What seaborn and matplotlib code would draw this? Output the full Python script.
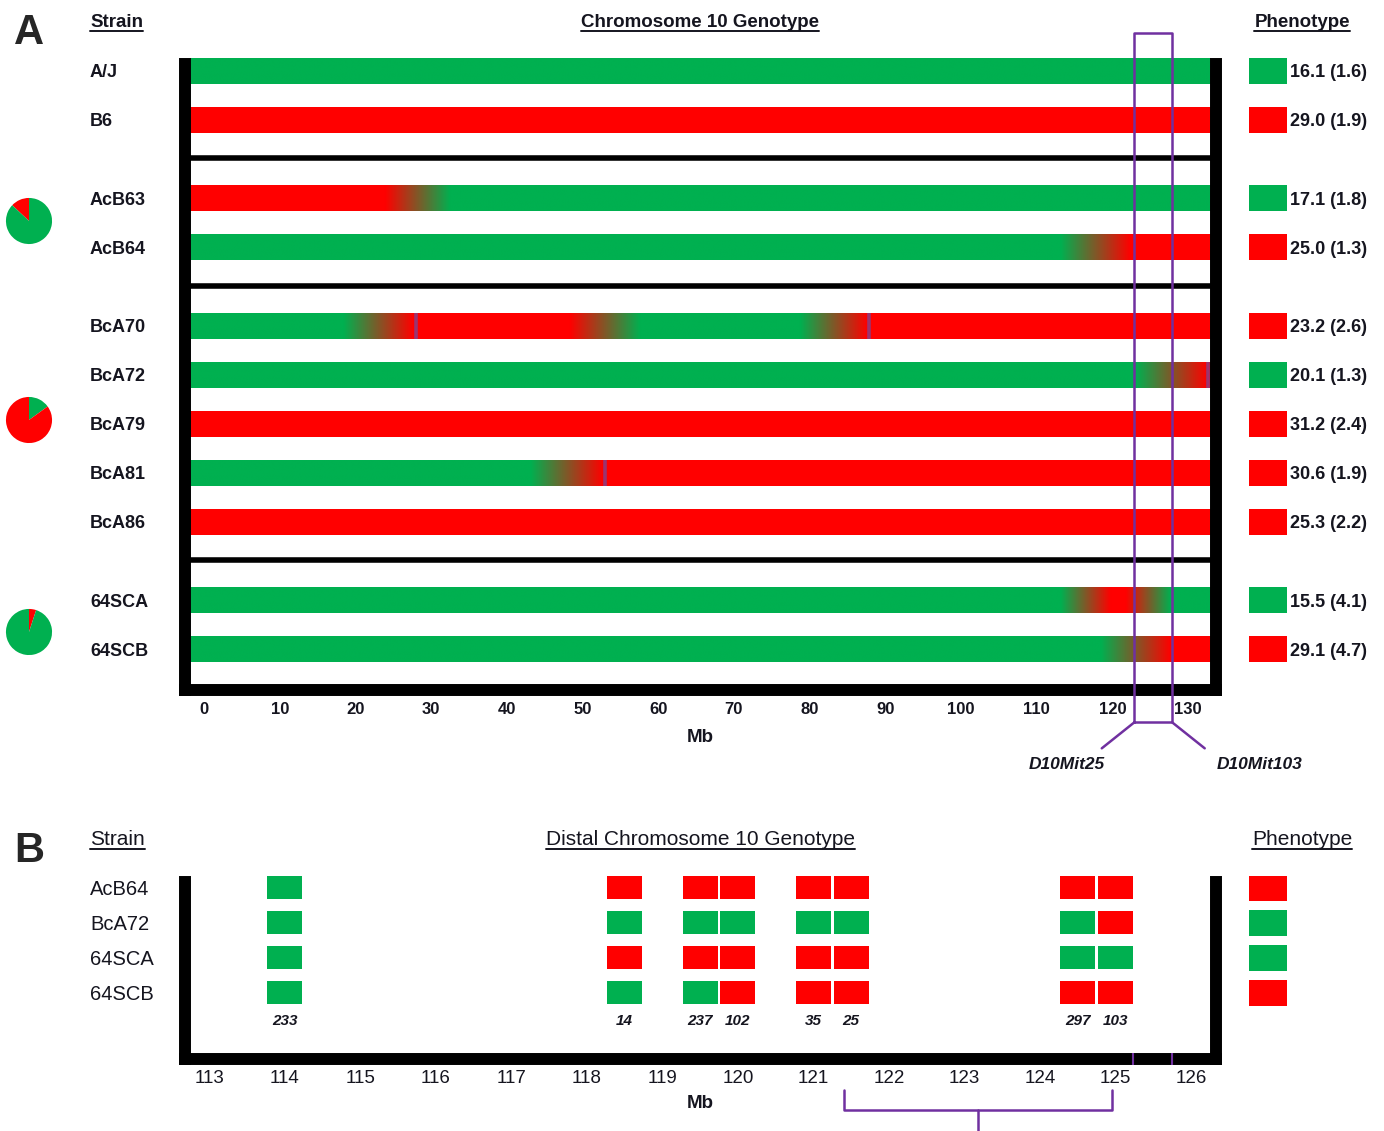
import numpy as np
import matplotlib
matplotlib.use("Agg")
import matplotlib.pyplot as plt
import matplotlib.transforms as mtransforms
from matplotlib.colors import to_rgb
from matplotlib.lines import Line2D
from matplotlib.patches import Rectangle
from matplotlib import font_manager
import seaborn as sns

# ---------------- panel A data ----------------
groups = [["A/J", "B6"],
          ["AcB63", "AcB64"],
          ["BcA70", "BcA72", "BcA79", "BcA81", "BcA86"],
          ["64SCA", "64SCB"]]
chrom_start, chrom_end = -1.85, 132.9
# (Mb, allele) anchors: A = A/J (green), B = B6 (red); colour fades between unlike anchors
genotype = {
    "A/J": [(chrom_start, "A"), (chrom_end, "A")],
    "B6": [(chrom_start, "B"), (chrom_end, "B")],
    "AcB63": [(chrom_start, "B"), (23.9, "B"), (32.5, "A"), (chrom_end, "A")],
    "AcB64": [(chrom_start, "A"), (113.1, "A"), (122.3, "B"), (chrom_end, "B")],
    "BcA70": [(chrom_start, "A"), (18.4, "A"), (27.6, "B"), (48.3, "B"), (57.6, "A"),
              (78.7, "A"), (87.6, "B"), (chrom_end, "B")],
    "BcA72": [(chrom_start, "A"), (123.0, "A"), (132.5, "B"), (chrom_end, "B")],
    "BcA79": [(chrom_start, "B"), (chrom_end, "B")],
    "BcA81": [(chrom_start, "A"), (43.1, "A"), (52.7, "B"), (chrom_end, "B")],
    "BcA86": [(chrom_start, "B"), (chrom_end, "B")],
    "64SCA": [(chrom_start, "A"), (113.1, "A"), (119.7, "B"), (121.7, "B"), (127.6, "A"), (chrom_end, "A")],
    "64SCB": [(chrom_start, "A"), (118.4, "A"), (127.6, "B"), (chrom_end, "B")],
}
recomb_marks = {"BcA70": [28.0, 87.9], "BcA72": [132.6], "BcA81": [53.0]}
pheno_mean = [16.1, 29.0, 17.1, 25.0, 23.2, 20.1, 31.2, 30.6, 25.3, 15.5, 29.1]
pheno_sd = [1.6, 1.9, 1.8, 1.3, 2.6, 1.3, 2.4, 1.9, 2.2, 4.1, 4.7]
pheno_class = "ABABBABBBAB"
pie_minor = [0.13, 0.15, 0.05]          # share of the donor genome
pie_minor_allele = ["B", "A", "B"]
d10mit25, d10mit103 = 122.9, 127.9
a_ticks = list(range(0, 131, 10))

# ---------------- panel B data ----------------
distal_strains = ["AcB64", "BcA72", "64SCA", "64SCB"]
marker_labels = ["233", "14", "237", "102", "35", "25", "297", "103"]
marker_mb = [114.0, 118.5, 119.5, 120.0, 121.0, 121.5, 124.5, 125.0]
distal_calls = ["ABBBBBBB", "AAAAAAAB", "ABBBBBAA", "AAABBBBB"]
distal_pheno = "BAAB"
distal_marks = [125.23, 125.75]
interval = (121.4, 124.95)
b_ticks = list(range(113, 127))

# ---------------- style ----------------
sns.set_theme(style="white")
installed = {f.name for f in font_manager.fontManager.ttflist}
WIDE = "Liberation Sans" if "Liberation Sans" in installed else "DejaVu Sans"
NARROW = "Liberation Sans Narrow" if "Liberation Sans Narrow" in installed else WIDE
plt.rcParams["font.family"] = [WIDE, "DejaVu Sans"]
INK = "#15151f"
GREEN, RED, PURPLE, MARK = "#00B050", "#FF0000", "#7030A0", "#9A3470"
allele_color = {"A": GREEN, "B": RED}

W, H = 1384, 1131
fig = plt.figure(figsize=(W / 100, H / 100), dpi=100)


def box(x0, y0, x1, y1):
    return [x0 / W, 1 - y1 / H, (x1 - x0) / W, (y1 - y0) / H]


def frame(ax, top):
    for side in ["left", "right", "bottom"]:
        sp = ax.spines[side]
        sp.set_visible(True)
        sp.set_color("black")
        sp.set_linewidth(8.6)
        sp.set_capstyle("projecting")
    ax.spines["top"].set_visible(False)
    lo = ax.get_ylim()[0]
    ax.spines["left"].set_bounds(lo, top)
    ax.spines["right"].set_bounds(lo, top)
    ax.set_yticks([])


# ================= panel A =================
strains = [s for g in groups for s in g]
ypos, seps = [], []
y = 0.0
for i, g in enumerate(groups):
    if i:
        seps.append(y - 0.22)
        y += 0.6
    for s in g:
        ypos.append(y)
        y += 1

axA = fig.add_axes(box(185, 58, 1216, 690))
bar_h = 0.53
xs = np.linspace(chrom_start, chrom_end, 2000)
for s, yy in zip(strains, ypos):
    pos = [p for p, a in genotype[s]]
    rgb = np.array([to_rgb(allele_color[a]) for p, a in genotype[s]])
    img = np.stack([np.interp(xs, pos, rgb[:, c]) for c in range(3)], axis=-1)[None]
    axA.imshow(img, extent=(chrom_start, chrom_end, yy + bar_h / 2, yy - bar_h / 2),
               aspect="auto", interpolation="bilinear", zorder=2)
    if s in recomb_marks:
        axA.vlines(recomb_marks[s], yy - bar_h / 2, yy + bar_h / 2, color=MARK, lw=2.6, zorder=3)

axA.set_xlim(-2.51, 133.69)
axA.set_ylim(12.63, -0.265)
axA.hlines(seps, -2.51, 133.69, color="black", lw=4, zorder=2)
frame(axA, -0.14)
axA.set_xticks(a_ticks)
axA.tick_params(axis="x", length=0, pad=9, labelsize=12)
for t in axA.get_xticklabels():
    t.set_fontweight("bold")
    t.set_color(INK)
axA.set_xlabel("Mb", fontsize=13.5, fontweight="bold", labelpad=8, color=INK)

# D10Mit25 / D10Mit103 interval box
box_top, box_bot, leg_y = -0.776, 13.29, 13.82
axA.plot([d10mit25, d10mit25, d10mit103, d10mit103, d10mit25],
         [box_bot, box_top, box_top, box_bot, box_bot],
         color=PURPLE, lw=1.8, clip_on=False, zorder=6)
axA.plot([118.6, d10mit25], [leg_y, box_bot], color=PURPLE, lw=1.8, clip_on=False, zorder=6)
axA.plot([d10mit103, 132.2], [box_bot, leg_y], color=PURPLE, lw=1.8, clip_on=False, zorder=6)
axA.text(114.0, 14.14, "D10Mit25", style="italic", fontweight="bold", fontsize=12.5,
         ha="center", va="center", color=INK)
axA.text(139.5, 14.14, "D10Mit103", style="italic", fontweight="bold", fontsize=12.5,
         ha="center", va="center", color=INK)

# strain labels
lab_tr = mtransforms.blended_transform_factory(fig.transFigure, axA.transData)
for s, yy in zip(strains, ypos):
    axA.text(90 / W, yy + 0.04, s, transform=lab_tr, ha="left", va="center",
             fontsize=13, fontweight="bold", color=INK)

# phenotype column
axP = fig.add_axes(box(1249, 58, 1384, 690))
axP.set_xlim(0, 135)
axP.set_ylim(12.63, -0.265)
axP.axis("off")
for m, sd, c, yy in zip(pheno_mean, pheno_sd, pheno_class, ypos):
    axP.add_patch(Rectangle((0, yy - bar_h / 2), 38, bar_h, color=allele_color[c], lw=0))
    axP.text(41, yy + 0.04, f"{m:.1f} ({sd:.1f})", ha="left", va="center",
             fontsize=13, fontweight="bold", color=INK)

# pies
pie_cy = [221, 420, 632]
pie_ccw = [True, False, False]
for frac, al, cy, ccw in zip(pie_minor, pie_minor_allele, pie_cy, pie_ccw):
    axp = fig.add_axes(box(5, cy - 24, 53, cy + 24))
    other = "A" if al == "B" else "B"
    axp.pie([frac, 1 - frac], colors=[allele_color[al], allele_color[other]],
            startangle=90, counterclock=ccw, radius=0.96,
            wedgeprops=dict(linewidth=0))
    axp.set_xlim(-1, 1)
    axp.set_ylim(-1, 1)
    axp.set_aspect("equal")
    axp.axis("off")

# ================= panel B =================
axB = fig.add_axes(box(185, 876, 1216, 1059))
blk_w, blk_h = 0.463, 0.66
for r, calls in enumerate(distal_calls):
    for mb, c in zip(marker_mb, calls):
        axB.add_patch(Rectangle((mb - blk_w / 2, r - blk_h / 2), blk_w, blk_h,
                                color=allele_color[c], lw=0, zorder=2))
for mb, lab in zip(marker_mb, marker_labels):
    axB.text(mb, 3.8, lab, ha="center", va="center", family=[NARROW, WIDE],
             style="italic", fontweight="bold", fontsize=11, color=INK)
axB.set_xlim(112.68, 126.33)
axB.set_ylim(4.89, -0.34)
frame(axB, -0.17)
axB.set_xticks(b_ticks)
axB.tick_params(axis="x", length=0, pad=8, labelsize=13.5)
for t in axB.get_xticklabels():
    t.set_family([NARROW, WIDE])
    t.set_color(INK)
axB.set_xlabel("Mb", fontsize=13.5, fontweight="bold", labelpad=6, color=INK)
axB.vlines(distal_marks, 4.71, 5.06, color=PURPLE, lw=1.5, clip_on=False, zorder=6)
mid = (interval[0] + interval[1]) / 2
axB.plot([interval[0], interval[0], interval[1], interval[1]], [5.77, 6.34, 6.34, 5.77],
         color=PURPLE, lw=1.8, clip_on=False, zorder=6, solid_joinstyle="round")
axB.plot([mid, mid], [6.34, 7.2], color=PURPLE, lw=1.8, clip_on=False, zorder=6)

labB_tr = mtransforms.blended_transform_factory(fig.transFigure, axB.transData)
for r, s in enumerate(distal_strains):
    axB.text(90 / W, r + 0.05, s, transform=labB_tr, ha="left", va="center",
             family=[NARROW, WIDE], fontsize=14.5, color=INK)

axPB = fig.add_axes(box(1249, 876, 1384, 1059))
axPB.set_xlim(0, 135)
axPB.set_ylim(4.89, -0.34)
axPB.axis("off")
for r, c in enumerate(distal_pheno):
    axPB.add_patch(Rectangle((0, r - 0.38), 38, 0.76, color=allele_color[c], lw=0))

# ================= headings =================
fig.text(29 / W, 1 - 33 / H, "A", fontsize=30, fontweight="bold", ha="center", va="center")
fig.text(29 / W, 1 - 851 / H, "B", fontsize=30, fontweight="bold", ha="center", va="center")

heads = []
heads.append((fig.text(90 / W, 1 - 27 / H, "Strain", ha="left", va="baseline",
                       fontsize=13.5, fontweight="bold", color=INK), 27))
heads.append((fig.text(700 / W, 1 - 27 / H, "Chromosome 10 Genotype", ha="center", va="baseline",
                       fontsize=13.5, fontweight="bold", color=INK), 27))
heads.append((fig.text(1302 / W, 1 - 27 / H, "Phenotype", ha="center", va="baseline",
                       fontsize=13.5, fontweight="bold", color=INK), 27))
heads.append((fig.text(90 / W, 1 - 845 / H, "Strain", ha="left", va="baseline",
                       fontsize=15, family=[NARROW, WIDE], color=INK), 845))
heads.append((fig.text(700 / W, 1 - 845 / H, "Distal Chromosome 10 Genotype", ha="center",
                       va="baseline", fontsize=15, family=[NARROW, WIDE], color=INK), 845))
heads.append((fig.text(1302 / W, 1 - 845 / H, "Phenotype", ha="center", va="baseline",
                       fontsize=15, family=[NARROW, WIDE], color=INK), 845))

renderer = fig.canvas.get_renderer()
for t, base in heads:
    bb = t.get_window_extent(renderer)
    yl = 1 - (base + 3.5) / H
    fig.add_artist(Line2D([bb.x0 / W, bb.x1 / W], [yl, yl], transform=fig.transFigure,
                          color=INK, lw=1.4))

fig.savefig("out.png", dpi=100, facecolor="white")
